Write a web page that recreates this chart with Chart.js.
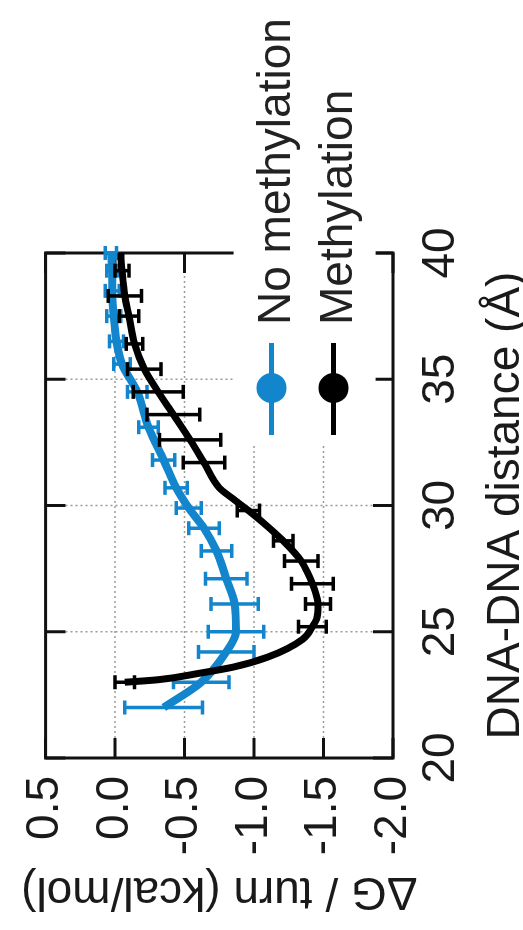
<!DOCTYPE html>
<html>
<head>
<meta charset="utf-8">
<script src="https://cdn.jsdelivr.net/npm/chart.js@4.4.0/dist/chart.umd.min.js"></script>
<style>
  html, body { margin: 0; padding: 0; background: #fff; overflow: hidden; }
  /* the figure is printed on its side: draw it normally, then turn it */
  #wrap { position: absolute; left: 0; top: 0; width: 930px; height: 523px;
          transform-origin: 0 0; transform: translate(0px, 930px) rotate(-90deg); }
</style>
</head>
<body>
<div id="wrap"><canvas id="myChart" width="930" height="523" style="width:930px;height:523px"></canvas></div>
<script>
// DNA-DNA distance (Å) and free energy per turn (kcal/mol)
var distNoMeth = [22.0, 23.0, 24.2, 25.0, 26.1, 27.1, 28.2, 29.1, 29.9, 30.7, 31.8, 33.1, 34.5, 35.6, 36.5, 37.5, 38.5, 39.3, 40.0];
var dgNoMeth   = [-0.35, -0.62, -0.80, -0.87, -0.86, -0.80, -0.73, -0.64, -0.53, -0.44, -0.35, -0.24, -0.16, -0.05, -0.01, 0.01, 0.02, 0.02, 0.03];
var errNoMeth  = [0.28, 0.20, 0.20, 0.20, 0.17, 0.15, 0.11, 0.11, 0.09, 0.08, 0.08, 0.07, 0.07, 0.06, 0.05, 0.05, 0.05, 0.04, 0.04];

var distMeth = [23.0, 23.1, 23.35, 23.6, 24.0, 24.7, 25.2, 25.5, 26.1, 26.4, 26.9, 27.4, 27.8, 28.6, 29.3, 29.8, 30.3, 30.7, 31.7, 32.6, 33.6, 34.5, 35.4, 36.4, 37.5, 38.3, 39.3, 40.0];
var dgMeth   = [-0.07, -0.31, -0.60, -0.85, -1.10, -1.35, -1.42, -1.45, -1.46, -1.45, -1.42, -1.38, -1.34, -1.21, -1.07, -0.96, -0.84, -0.75, -0.64, -0.54, -0.42, -0.31, -0.21, -0.14, -0.10, -0.07, -0.05, -0.04];
var errMeth  = [0.07, null, null, null, null, null, 0.10, null, 0.09, null, 0.15, null, 0.12, 0.07, null, 0.08, null, null, 0.15, 0.22, 0.19, 0.18, 0.12, 0.06, 0.07, 0.12, 0.05, null];

var distRange = [20, 40];
var dgRange = [-2.0, 0.5];
var seriesNames = ['No methylation', 'Methylation'];
var seriesColors = ['#1385cc', '#000000'];

function toPoints(xs, ys) {
  return xs.map(function(x, i) { return {x: x, y: ys[i]}; });
}

var bigFont = { family: "'Liberation Sans', Arial, sans-serif", size: 46 };
var titleFont = { family: "'Liberation Sans', Arial, sans-serif", size: 46, lineHeight: 0.8 };

var gnuplotLook = {
  id: 'gnuplotLook',
  beforeDatasetsDraw: function(chart) {
    var c = chart.ctx, a = chart.chartArea, xs = chart.scales.x, ys = chart.scales.y;
    c.save();
    // dotted grid
    c.strokeStyle = '#9a9a9a';
    c.lineWidth = 1.5;
    c.setLineDash([2, 3]);
    xs.ticks.forEach(function(t) {
      if (t.value <= xs.min || t.value >= xs.max) return;
      var p = xs.getPixelForValue(t.value);
      c.beginPath(); c.moveTo(p, a.top); c.lineTo(p, a.bottom); c.stroke();
    });
    ys.ticks.forEach(function(t) {
      if (t.value <= ys.min || t.value >= ys.max) return;
      var p = ys.getPixelForValue(t.value);
      c.beginPath(); c.moveTo(a.left, p); c.lineTo(a.right, p); c.stroke();
    });
    c.setLineDash([]);
    // border and inward ticks on all four sides
    c.strokeStyle = '#111';
    c.lineWidth = 3;
    c.strokeRect(a.left, a.top, a.right - a.left, a.bottom - a.top);
    var tl = 20;
    xs.ticks.forEach(function(t) {
      var p = xs.getPixelForValue(t.value);
      c.beginPath();
      c.moveTo(p, a.bottom); c.lineTo(p, a.bottom - tl);
      c.moveTo(p, a.top); c.lineTo(p, a.top + tl);
      c.stroke();
    });
    ys.ticks.forEach(function(t) {
      var p = ys.getPixelForValue(t.value);
      c.beginPath();
      c.moveTo(a.left, p); c.lineTo(a.left + tl, p);
      c.moveTo(a.right, p); c.lineTo(a.right - tl, p);
      c.stroke();
    });
    c.restore();
  },
  beforeDatasetDraw: function(chart, args) {
    var ds = chart.data.datasets[args.index];
    if (!ds.errors) return;
    var c = chart.ctx, xs = chart.scales.x, ys = chart.scales.y;
    c.save();
    c.strokeStyle = ds.borderColor;
    c.lineWidth = 3.5;
    ds.data.forEach(function(pt, i) {
      var e = ds.errors[i];
      if (e == null) return;
      var px = xs.getPixelForValue(pt.x);
      var lo = ys.getPixelForValue(pt.y - e);
      var hi = ys.getPixelForValue(pt.y + e);
      c.beginPath();
      c.moveTo(px, lo); c.lineTo(px, hi);
      c.moveTo(px - 7, lo); c.lineTo(px + 7, lo);
      c.moveTo(px - 7, hi); c.lineTo(px + 7, hi);
      c.stroke();
    });
    c.restore();
  },
  afterDraw: function(chart) {
    var c = chart.ctx, a = chart.chartArea;
    c.save();
    // opaque key box
    c.fillStyle = '#fff';
    c.fillRect(a.right - 190, a.top + 188, 220, 142);
    c.font = "46px 'Liberation Sans', Arial, sans-serif";
    c.textBaseline = 'alphabetic';
    c.textAlign = 'left';
    chart.data.datasets.forEach(function(ds, i) {
      var cy = a.top + 226 + i * 62;
      c.strokeStyle = ds.borderColor;
      c.fillStyle = ds.borderColor;
      c.lineWidth = 5;
      c.beginPath(); c.moveTo(a.right - 182, cy); c.lineTo(a.right - 90, cy); c.stroke();
      c.beginPath(); c.arc(a.right - 135, cy, 15, 0, Math.PI * 2); c.fill();
      c.fillStyle = '#222';
      c.fillText(ds.label, a.right - 72, cy + 18);
    });
    c.restore();
  }
};

var ctx = document.getElementById('myChart').getContext('2d');
var myChart = new Chart(ctx, {
  type: 'line',
  data: {
    datasets: [{
      label: seriesNames[0],
      data: toPoints(distNoMeth, dgNoMeth),
      errors: errNoMeth,
      borderColor: seriesColors[0],
      borderWidth: 8,
      pointRadius: 0,
      cubicInterpolationMode: 'monotone',
      order: 1
    }, {
      label: seriesNames[1],
      data: toPoints(distMeth, dgMeth),
      errors: errMeth,
      borderColor: seriesColors[1],
      borderWidth: 7,
      pointRadius: 0,
      cubicInterpolationMode: 'monotone',
      order: 0
    }]
  },
  options: {
    responsive: false,
    animation: false,
    layout: { padding: { left: 0, top: 42, right: 253, bottom: 0 } },
    plugins: {
      legend: { display: false },
      tooltip: { enabled: false }
    },
    scales: {
      x: {
        type: 'linear',
        min: distRange[0],
        max: distRange[1],
        grid: { display: false, drawTicks: false, tickLength: 0 },
        border: { display: false },
        ticks: { stepSize: 5, font: bigFont, color: '#1a1a1a', padding: 21, maxRotation: 0 },
        title: { display: true, text: 'DNA-DNA distance (Å)', font: titleFont, color: '#1a1a1a', padding: { top: 0, bottom: -2 } },
        afterFit: function(s) { s.height = 130; }
      },
      y: {
        type: 'linear',
        min: dgRange[0],
        max: dgRange[1],
        grid: { display: false, drawTicks: false, tickLength: 0 },
        border: { display: false },
        ticks: { stepSize: 0.5, font: bigFont, color: '#1a1a1a', padding: 18,
                 callback: function(v) { return v.toFixed(1); } },
        title: { display: true, text: 'ΔG / turn (kcal/mol)', font: titleFont, color: '#1a1a1a', padding: { top: 21, bottom: 0 } },
        afterFit: function(s) { s.width = 172; }
      }
    }
  },
  plugins: [gnuplotLook]
});
</script>
</body>
</html>
